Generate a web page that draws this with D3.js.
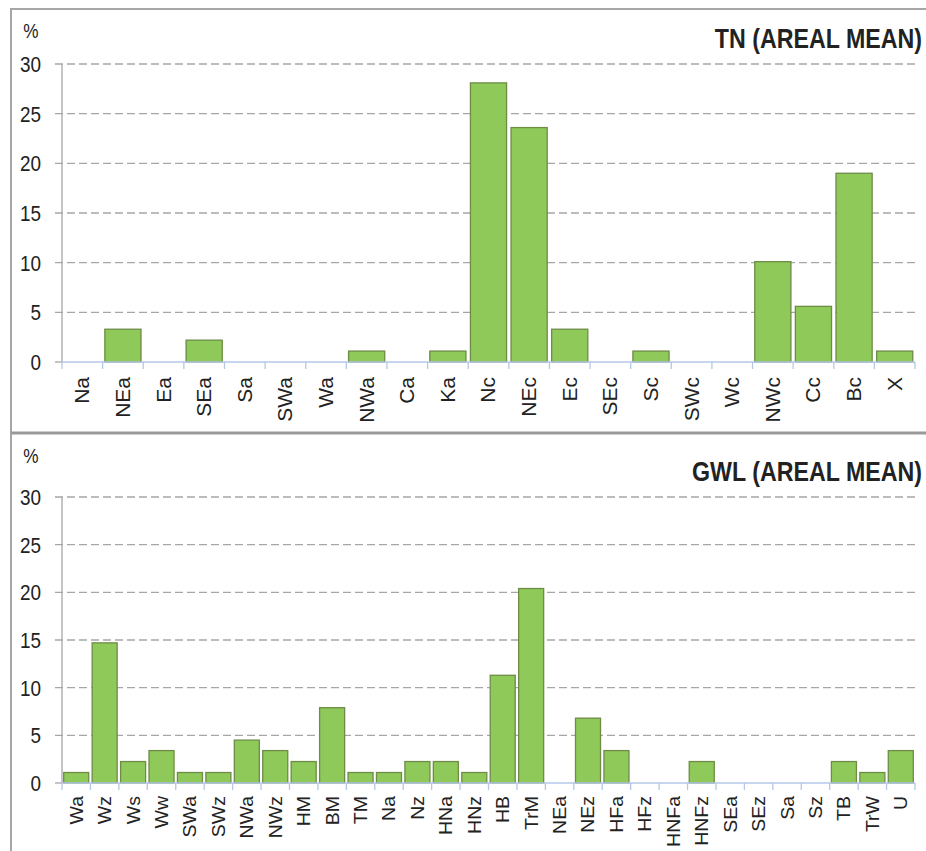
<!DOCTYPE html>
<html>
<head>
<meta charset="utf-8">
<script src="https://cdn.jsdelivr.net/npm/d3@7"></script>
<style>
  body { margin: 0; background: #fff; }
  svg { display: block; font-family: "Liberation Sans", Arial, sans-serif; }
</style>
</head>
<body>
<div id="chart"></div>
<script>
// данные: верхняя панель (TN)
const tnCategories = ['Na', 'NEa', 'Ea', 'SEa', 'Sa', 'SWa', 'Wa', 'NWa', 'Ca', 'Ka',
    'Nc', 'NEc', 'Ec', 'SEc', 'Sc', 'SWc', 'Wc', 'NWc', 'Cc', 'Bc', 'X'];
const tnValues = [0, 3.3, 0, 2.2, 0, 0, 0, 1.1, 0, 1.1,
    28.1, 23.6, 3.3, 0, 1.1, 0, 0, 10.1, 5.6, 19.0, 1.1];

// данные: нижняя панель (GWL)
const gwlCategories = ['Wa', 'Wz', 'Ws', 'Ww', 'SWa', 'SWz', 'NWa', 'NWz', 'HM', 'BM',
    'TM', 'Na', 'Nz', 'HNa', 'HNz', 'HB', 'TrM', 'NEa', 'NEz', 'HFa',
    'HFz', 'HNFa', 'HNFz', 'SEa', 'SEz', 'Sa', 'Sz', 'TB', 'TrW', 'U'];
const gwlValues = [1.1, 14.7, 2.25, 3.4, 1.1, 1.1, 4.5, 3.4, 2.25, 7.9,
    1.1, 1.1, 2.25, 2.25, 1.1, 11.3, 20.4, 0, 6.8, 3.4,
    0, 0, 2.25, 0, 0, 0, 0, 2.25, 1.1, 3.4];

const yTicks = [0, 5, 10, 15, 20, 25, 30];

const width = 926;
const height = 851;
const squeeze = 0.86; // картинка немного сжата по горизонтали

const svg = d3.select('#chart')
    .append('svg')
    .attr('width', width)
    .attr('height', height);

// рамка
svg.append('line').attr('x1', 11).attr('x2', width).attr('y1', 9).attr('y2', 9)
    .attr('stroke', '#a6a6a6').attr('stroke-width', 2);
svg.append('line').attr('x1', 11).attr('x2', 11).attr('y1', 8).attr('y2', height)
    .attr('stroke', '#a6a6a6').attr('stroke-width', 2);
svg.append('line').attr('x1', 11).attr('x2', width).attr('y1', 433).attr('y2', 433)
    .attr('stroke', '#999').attr('stroke-width', 3);

function drawPanel(opts) {
    const { categories, values, title, yTop, yBottom, titleY, percentY, labelGap, labelSize, pad } = opts;
    const x0 = 62, x1 = 915;

    const x = d3.scaleBand()
        .domain(categories)
        .range([x0, x1])
        .paddingInner(pad)
        .paddingOuter(pad / 2);

    const y = d3.scaleLinear()
        .domain([0, 30])
        .range([yBottom, yTop]);

    const g = svg.append('g');

    // пунктирная сетка
    g.selectAll('.grid')
        .data(yTicks.filter(t => t > 0))
        .enter().append('line')
        .attr('x1', 55).attr('x2', x1)
        .attr('y1', d => y(d)).attr('y2', d => y(d))
        .attr('stroke', '#a6a6a6')
        .attr('stroke-width', 1.3)
        .attr('stroke-dasharray', '8,4');

    // ось Y
    g.append('line')
        .attr('x1', x0).attr('x2', x0)
        .attr('y1', y(0)).attr('y2', y(30))
        .attr('stroke', '#a6a6a6').attr('stroke-width', 1.3);
    g.append('line')
        .attr('x1', 55).attr('x2', x0)
        .attr('y1', y(0)).attr('y2', y(0))
        .attr('stroke', '#a6a6a6').attr('stroke-width', 1.3);

    g.selectAll('.ylab')
        .data(yTicks)
        .enter().append('text')
        .attr('transform', d => `translate(41,${y(d)}) scale(${squeeze},1)`)
        .attr('text-anchor', 'end')
        .attr('dy', '0.36em')
        .attr('font-size', 22)
        .attr('fill', '#222')
        .text(d => d);

    // столбцы
    g.selectAll('.bar')
        .data(categories)
        .enter().append('rect')
        .attr('x', d => x(d))
        .attr('width', x.bandwidth())
        .attr('y', (d, i) => y(values[i]))
        .attr('height', (d, i) => y(0) - y(values[i]))
        .attr('fill', '#8fc95a')
        .attr('stroke', '#6e8c46')
        .attr('stroke-width', 1.3);

    // ось X
    const edges = d3.range(categories.length + 1).map(i => x0 + i * (x1 - x0) / categories.length);
    g.append('line')
        .attr('x1', x0).attr('x2', x1)
        .attr('y1', y(0)).attr('y2', y(0))
        .attr('stroke', '#b4c7e7').attr('stroke-width', 1.3);
    g.selectAll('.xtick')
        .data(edges)
        .enter().append('line')
        .attr('x1', d => d).attr('x2', d => d)
        .attr('y1', y(0)).attr('y2', y(0) + 7)
        .attr('stroke', '#b4c7e7').attr('stroke-width', 1.3);

    g.selectAll('.xlab')
        .data(categories)
        .enter().append('text')
        .attr('transform', d => `translate(${x(d) + x.bandwidth() / 2},${y(0) + labelGap}) scale(0.92,1) rotate(-90)`)
        .attr('text-anchor', 'end')
        .attr('dy', '0.36em')
        .attr('font-size', labelSize)
        .attr('fill', '#222')
        .text(d => d);

    // заголовок и единицы
    g.append('text')
        .attr('transform', `translate(922,${titleY}) scale(${squeeze},1)`)
        .attr('text-anchor', 'end')
        .attr('font-size', 27)
        .attr('font-weight', 'bold')
        .attr('fill', '#222')
        .text(title);

    g.append('text')
        .attr('transform', `translate(31,${percentY}) scale(${squeeze},1)`)
        .attr('text-anchor', 'middle')
        .attr('dy', '0.36em')
        .attr('font-size', 20)
        .attr('fill', '#222')
        .text('%');
}

drawPanel({
    categories: tnCategories, values: tnValues, title: 'TN (AREAL MEAN)',
    yTop: 64, yBottom: 362, titleY: 48, percentY: 31, labelGap: 15, labelSize: 21, pad: 0.11
});

drawPanel({
    categories: gwlCategories, values: gwlValues, title: 'GWL (AREAL MEAN)',
    yTop: 497, yBottom: 783, titleY: 481, percentY: 456, labelGap: 13, labelSize: 19.5, pad: 0.12
});
</script>
</body>
</html>
